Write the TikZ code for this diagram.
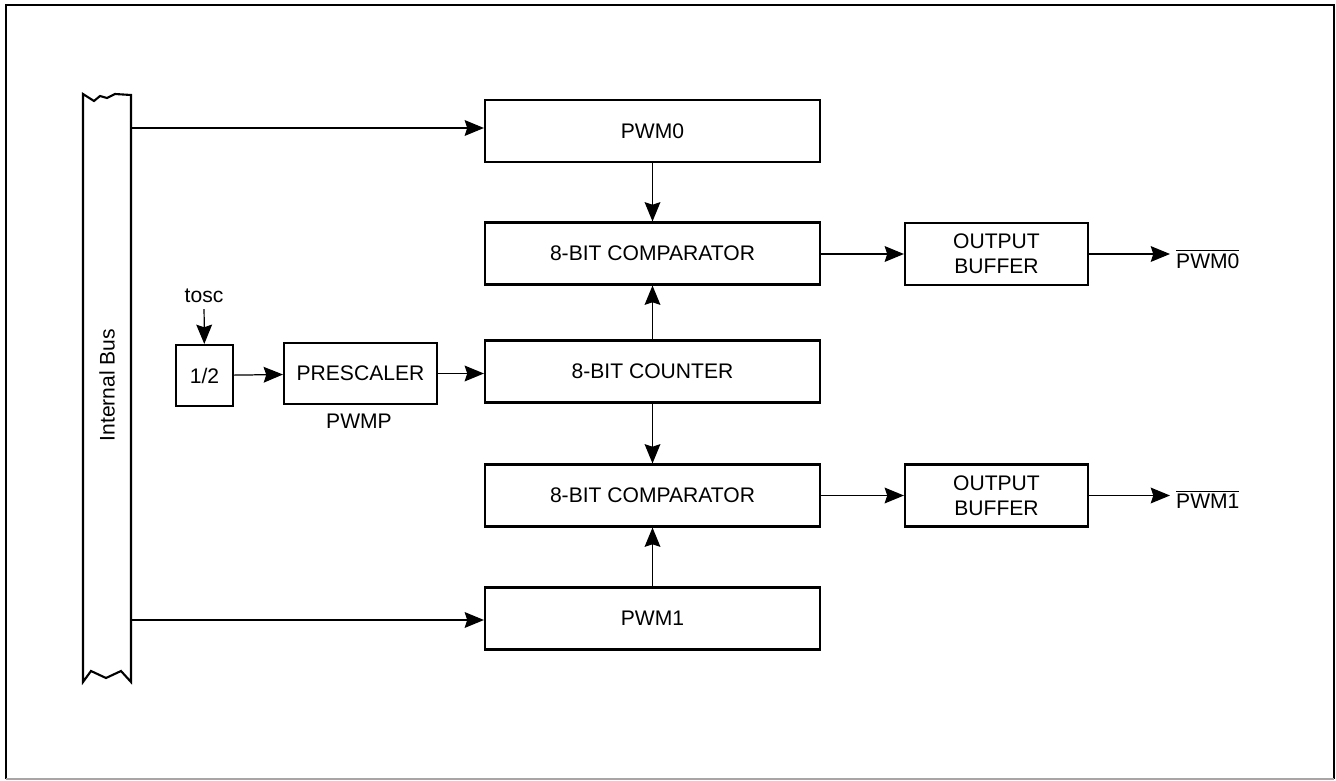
\documentclass[tikz,border=0pt]{standalone}
\usepackage{fontspec}
\setmainfont{Liberation Sans}
\usetikzlibrary{arrows.meta}

\begin{document}
\begin{tikzpicture}[x=0.02cm,y=-0.02cm,>={Stealth[length=11pt,width=9pt,inset=1.5pt]},
font=\fontsize{12}{14}\selectfont,
blk/.style={draw,line width=1.2pt,minimum width=335*0.02cm,minimum height=62*0.02cm,inner sep=0pt},
buf/.style={draw,line width=1.2pt,minimum width=183*0.02cm,minimum height=62*0.02cm,align=center,inner sep=0pt},
arr/.style={->,line width=0.7pt}]
\useasboundingbox (0,0) rectangle (1336,781);
% frame
\draw[line width=1.6pt] (6,779) -- (6,5) -- (1334,5) -- (1334,779);
\draw[gray!70,line width=0.6pt] (6,779) -- (1334,779);
% internal bus
\draw[line width=1.2pt] (83,682) -- (83,94) -- (94,101) -- (100,96) -- (107,98) -- (115,94) -- (131,95)
  -- (131,682) -- (121,671) -- (106,678) -- (91,671) -- cycle;
\node[rotate=90] (bus) at (107,385) {Internal Bus};
\coordinate (bus0) at (131,128);
\coordinate (bus1) at (131,620);
% blocks
\node[blk] (pwm0) at (652.5,131) {PWM0};
\node[blk] (cmp0) at (652.5,253.5) {8-BIT COMPARATOR};
\node[blk] (cnt) at (652.5,371.5) {8-BIT COUNTER};
\node[blk] (cmp1) at (652.5,495.5) {8-BIT COMPARATOR};
\node[blk] (pwm1) at (652.5,618.5) {PWM1};
\node[buf] (buf0) at (996.5,254) {OUTPUT\\BUFFER};
\node[buf] (buf1) at (996.5,495.5) {OUTPUT\\BUFFER};
\node[draw,line width=1.2pt,minimum width=57*0.02cm,minimum height=61*0.02cm,inner sep=0pt] (div) at (204.5,375.5) {1/2};
\node[draw,line width=1.2pt,minimum width=153*0.02cm,minimum height=61*0.02cm,inner sep=0pt] (pre) at (360.5,373.5) {PRESCALER};
\node (pwmp) at (359,421) {PWMP};
\node (tosc) at (204,296) {tosc};
\node[anchor=west] (out0) at (1170,259) {$\overline{\mbox{PWM0}}$};
\node[anchor=west] (out1) at (1170,499) {$\overline{\mbox{PWM1}}$};
% connections
\draw[arr] (bus0) -- (pwm0.west |- bus0);
\draw[arr] (bus1) -- (pwm1.west |- bus1);
\draw[arr] (pwm0) -- (cmp0);
\draw[arr] (cnt) -- (cmp0);
\draw[arr] (cnt) -- (cmp1);
\draw[arr] (pwm1) -- (cmp1);
\draw[arr] (tosc) -- (div);
\draw[arr] (div) -- (pre);
\draw[arr] (pre) -- (cnt.west |- pre);
\draw[arr] (cmp0.east |- buf0) -- (buf0);
\draw[arr] (cmp1.east |- buf1) -- (buf1);
\draw[arr] (buf0) -- (out0.west |- buf0);
\draw[arr] (buf1) -- (out1.west |- buf1);
\end{tikzpicture}
\end{document}
